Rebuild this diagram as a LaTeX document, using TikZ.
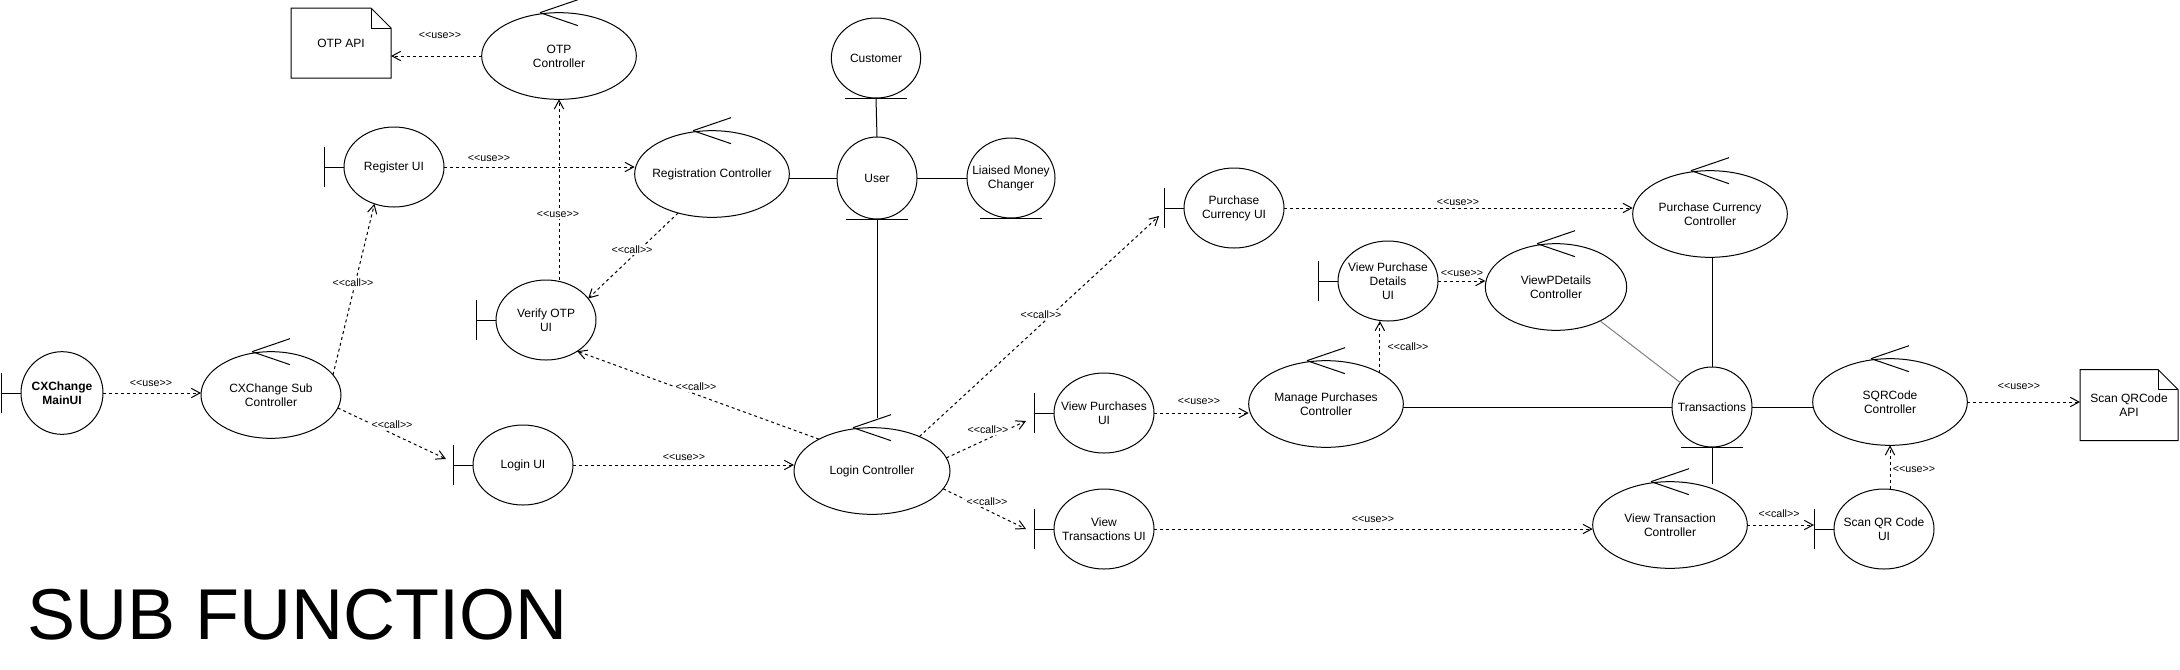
\documentclass[tikz,border=0pt]{standalone}
\usepackage{fontspec}
\setmainfont{Liberation Sans}
\usetikzlibrary{shapes.geometric}
\usetikzlibrary{arrows.meta}
\usetikzlibrary{calc}

\newcommand{\stereo}[1]{<\kern0pt<#1>\kern0pt>}
\newcommand{\nodefont}{\fontsize{9}{10.5}\selectfont}
\newcommand{\lblfont}{\fontsize{8}{9.6}\selectfont}

\tikzset{
  shp/.style={draw, line width=0.75pt, inner sep=0pt, outer sep=0pt},
  ctrl/.style={shp, ellipse, minimum width=116pt, minimum height=65pt, label={center:#1}},
  bnd/.style={shp, ellipse, minimum width=75pt, minimum height=60pt, label={center:#1}},
  ent/.style={shp, ellipse, minimum width=60pt, minimum height=60pt, label={center:#1}},
  docbox/.style={inner sep=0pt, outer sep=0pt, minimum width=75pt, minimum height=52.5pt, font=\nodefont, align=center},
  every label/.style={font=\nodefont, align=center, inner sep=0pt},
  dep/.style={line width=0.75pt, dash pattern=on 2.25pt off 2.25pt, -{Straight Barb[length=6.5pt,width=7pt]}},
  assoc/.style={line width=0.75pt},
  lbl/.style={font=\lblfont, fill=white, inner sep=1pt},
}

\begin{document}
\begin{tikzpicture}[x=0.75pt,y=0.75pt,yscale=-1,xscale=1]
\useasboundingbox (0,0) rectangle (2180,669);

%Shape: Boundary (UI)
\node [bnd={\textbf{CXChange}\\\textbf{MainUI}}, minimum width=61.5pt, minimum height=62pt] (mainui) at (62,393) {};
\node [bnd={Register UI}] (regui) at (394,167) {};
\node [bnd={Verify OTP\\UI}] (verui) at (546,320) {};
\node [bnd={Login UI}] (loginui) at (523,465) {};
\node [bnd={Purchase\\Currency UI}] (pcui) at (1234,208) {};
\node [bnd={View Purchases\\UI}] (vpui) at (1104,413) {};
\node [bnd={View\\Transactions UI}] (vtui) at (1104,529) {};
\node [bnd={View Purchase\\Details\\UI}] (vpdui) at (1388,281) {};
\node [bnd={Scan QR Code\\UI}] (squi) at (1884,529) {};

%Shape: Control
\node [ctrl={CXChange Sub\\Controller}, minimum width=105pt] (subc) at (271,395) {};
\node [ctrl={OTP\\Controller}] (otpc) at (559,56) {};
\node [ctrl={Registration Controller}] (regc) at (712,174) {};
\node [ctrl={Login Controller}, minimum width=117pt] (loginc) at (872,471) {};
\node [ctrl={Purchase Currency\\Controller}] (pcc) at (1710,214) {};
\node [ctrl={ViewPDetails\\Controller}, minimum width=106pt] (vpdc) at (1556,287) {};
\node [ctrl={Manage Purchases\\Controller}] (mpc) at (1326,404) {};
\node [ctrl={View Transaction\\Controller}] (vtc) at (1670,525) {};
\node [ctrl={SQRCode\\Controller}] (sqrc) at (1890,402) {};

%Shape: Entity
\node [ent={Customer}, minimum width=67pt] (cust) at (876,58) {};
\node [ent={User}, minimum height=61.5pt] (user) at (877,178) {};
\node [ent={Liaised Money\\Changer}, minimum width=66pt] (lmc) at (1011,178) {};
\node [ent={Transactions}] (trans) at (1712,407) {};

%Shape: Document
\node [docbox] (otpapi) at (341,43) {OTP API};
\node [docbox, minimum width=73.5pt, minimum height=53.25pt] (sqrapi) at (2129,405) {Scan QRCode\\API};

%Straight Lines: marks
\foreach \n in {subc,otpc,regc,loginc,pcc,vpdc,mpc,vtc,sqrc}{
  \draw [line width=0.75pt] ($(\n.north)+(-19,0)$) -- ++(38,-13);
  \draw [line width=0.75pt] ($(\n.north)+(-19,0)$) -- ++(38,13);
}
\foreach \n in {mainui,regui,verui,loginui,pcui,vpui,vtui,vpdui,squi}{
  \draw [line width=0.75pt] ($(\n.west)+(-20,0)$) -- (\n.west);
  \draw [line width=0.75pt] ($(\n.west)+(-20,-20)$) -- ++(0,40);
}
\foreach \n in {cust,user,lmc,trans}
  \draw [line width=0.75pt] ($(\n.south)+(-31,0)$) -- ++(62,0);
\foreach \n in {otpapi,sqrapi}{
  \draw [line width=0.75pt] (\n.south west) -- (\n.north west) -- ($(\n.north east)+(-20,0)$) -- ($(\n.north east)+(0,20)$) -- (\n.south east) -- cycle;
  \draw [line width=0.75pt] ($(\n.north east)+(-20,0)$) -- ++(0,20) -- ++(20,0);
}

%Straight Lines: associations
\draw [assoc] (cust.south) -- (user.north);
\draw [assoc] (user.west -| regc.east) -- (user.west);
\draw [assoc] (user.east) -- (lmc.west);
\draw [assoc] (user.south) -- ($(user.south |- loginc.north)+(0,-10)$);
\draw [assoc] (trans.west -| mpc.east) -- (trans.west);
\draw [assoc] (trans.north |- pcc.south) -- (trans.north);
\draw [assoc, draw=gray] (vpdc) -- (trans);
\draw [assoc] (trans.south) -- (trans.south |- vtc.60);
\draw [assoc] (trans.east) -- (trans.east -| sqrc.west);

%Straight Lines: dependencies
\draw [dep] (mainui.east) -- (mainui.east -| subc.west) node [lbl] (u1) at (151,383) {\stereo{use}};
\draw [dep] (subc.18) -- (regui.242) node [lbl] (c1) at (353,283) {\stereo{call}};
\draw [dep] (subc.-11) -- ($(loginui.west)+(-27,-6)$) node [lbl] (c2) at (392,425) {\stereo{call}};
\draw [dep] (otpc.west) -- (otpc.west -| otpapi.east) node [lbl] (u2) at (440,35) {\stereo{use}};
\draw [dep] (regui.east) -- (regui.east -| regc.west) node [lbl] (u3) at (489,158) {\stereo{use}};
\draw [dep] (otpc.south |- verui.north) -- (otpc.south) node [lbl] (u4) at (558,214) {\stereo{use}};
\draw [dep] (regc.229) -- (verui.27) node [lbl] (c3) at (632,250) {\stereo{call}};
\draw [dep] (loginui.east) -- (loginui.east -| loginc.west) node [lbl] (u5) at (684,457) {\stereo{use}};
\draw [dep] (loginc.149) -- (verui.-45) node [lbl] (c4) at (696,387) {\stereo{call}};
\draw [dep] (loginc.36) -- ($(pcui.west)+(-25,8)$) node [lbl] (c5) at (1041,315) {\stereo{call}};
\draw [dep] (loginc.10) -- ($(vpui.west)+(-28,8)$) node [lbl] (c6) at (988,430) {\stereo{call}};
\draw [dep] (loginc.-14) -- ($(vtui.west)+(-28,0)$) node [lbl] (c7) at (987,502) {\stereo{call}};
\draw [dep] (vpui.east) -- (vpui.east -| mpc.west) node [lbl] (u6) at (1199,401) {\stereo{use}};
\draw [dep] (pcui.east) -- (pcui.east -| pcc.west) node [lbl] (u7) at (1458,202) {\stereo{use}};
\draw [dep] (vpdui.east) -- (vpdui.east -| vpdc.west) node [lbl] (u8) at (1462,273) {\stereo{use}};
\draw [dep] (mpc.30) -- (mpc.30 |- vpdui.south) node [lbl] (c8) at (1408,347) {\stereo{call}};
\draw [dep] (vtui.east) -- (vtui.east -| vtc.west) node [lbl] (u9) at (1373,519) {\stereo{use}};
\draw [dep] (vtc.east) -- ($(vtc.east -| squi.west)+(-20,0)$) node [lbl] (c9) at (1779,514) {\stereo{call}};
\draw [dep] (sqrc.east) -- (sqrc.east -| sqrapi.west) node [lbl] (u10) at (2019,386) {\stereo{use}};
\draw [dep] (sqrc.south |- squi.north) -- (sqrc.south) node [lbl] (u11) at (1914,469) {\stereo{use}};

% Text Node
\node [anchor=base west, inner sep=0pt, font=\fontsize{54}{60}\selectfont] (title) at (27,639) {SUB FUNCTION};

\end{tikzpicture}
\end{document}
